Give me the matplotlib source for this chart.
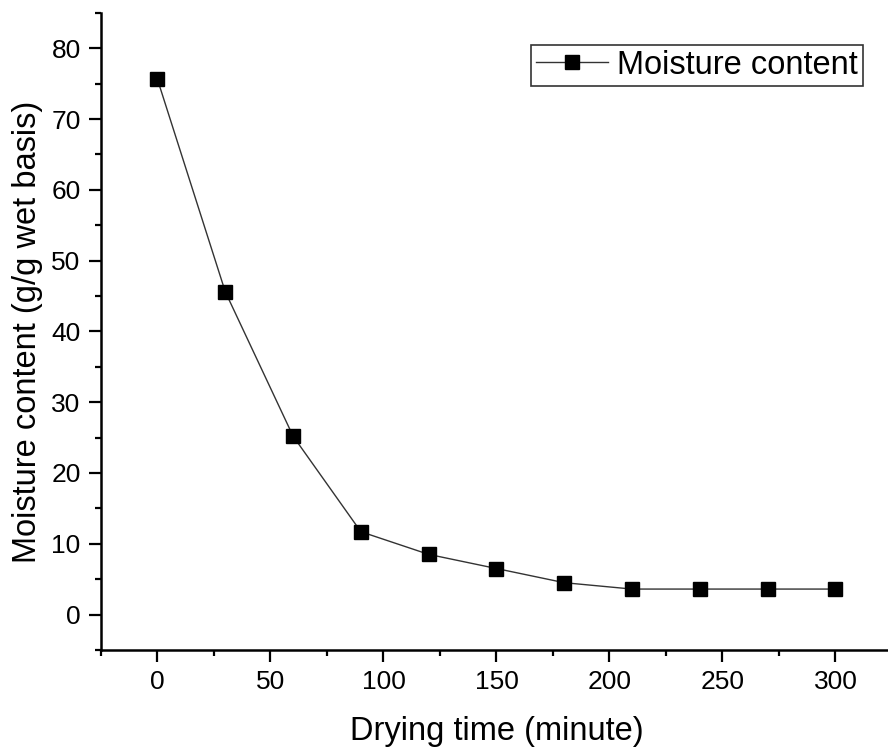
import numpy as np
import matplotlib.pyplot as plt
from matplotlib.ticker import MultipleLocator

# drying curve
time_min = [0, 30, 60, 90, 120, 150, 180, 210, 240, 270, 300]
moisture = [75.6, 45.6, 25.2, 11.7, 8.5, 6.5, 4.5, 3.6, 3.6, 3.6, 3.6]

plt.rcParams['font.family'] = ['Liberation Sans', 'DejaVu Sans']

fig = plt.figure(figsize=(8.88, 7.54), dpi=100)
ax = fig.add_axes([0.1137, 0.138, 0.8908, 0.845])

ax.plot(time_min, moisture, color='#333333', lw=1.0, marker='s', ms=10,
        mfc='black', mec='black', label='Moisture content')

ax.set_xlim(-25, 325)
ax.set_ylim(-5, 85)
ax.xaxis.set_major_locator(MultipleLocator(50))
ax.xaxis.set_minor_locator(MultipleLocator(25))
ax.yaxis.set_major_locator(MultipleLocator(10))
ax.yaxis.set_minor_locator(MultipleLocator(5))
ax.set_xticks(np.arange(0, 301, 50))
ax.set_yticks(np.arange(0, 81, 10))

ax.spines['top'].set_visible(False)
ax.spines['right'].set_visible(False)
for s in ('left', 'bottom'):
    ax.spines[s].set_linewidth(1.8)

ax.tick_params(which='major', direction='out', length=8.6, width=1.6,
               labelsize=19, pad=6)
ax.tick_params(which='minor', direction='out', length=4.3, width=1.6)

ax.set_xlabel('Drying time (minute)', fontsize=23.5, labelpad=16)
ax.set_ylabel('Moisture content (g/g wet basis)', fontsize=23.5, labelpad=6)

leg = ax.legend(loc='upper right', bbox_to_anchor=(0.9718, 0.9403),
                bbox_transform=fig.transFigure, fontsize=23.5,
                fancybox=False, edgecolor='#333333', framealpha=1,
                handlelength=2.2, handletextpad=0.3, borderpad=0.15,
                borderaxespad=0)
leg.get_frame().set_linewidth(1.2)

fig.savefig('out.png', dpi=100)
